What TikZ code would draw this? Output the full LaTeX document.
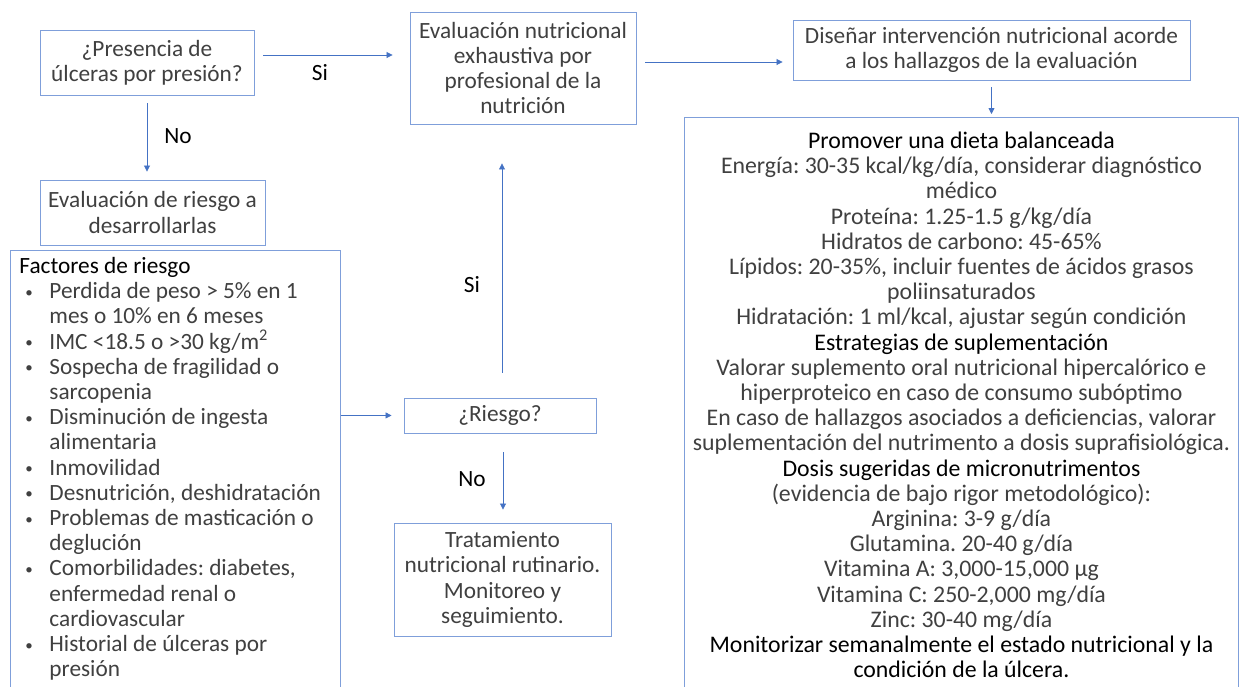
\documentclass[tikz,border=0pt]{standalone}
\usepackage{fontspec}
\setmainfont{Carlito}
\usepackage{xcolor}
\usepackage{tikz}
\usetikzlibrary{arrows.meta, calc}

\definecolor{linkblue}{HTML}{4472C4}
\definecolor{boxblue}{HTML}{7F9FDA}
\definecolor{bodygray}{HTML}{404040}

\tikzset{
	box/.style = {draw = boxblue, line width = 0.9pt, align = center, inner sep = 2pt, text = bodygray,
		font = \fontsize{23.3}{25.2}\selectfont},
	link/.style = {draw = linkblue, line width = 0.8pt, -{Triangle[length = 6pt, width = 6pt]}},
	answer/.style = {text = black, font = \fontsize{23.3}{25.2}\selectfont}
}

\newcommand{\riskdot}{\hspace{1pt}{\fontsize{15}{15}\selectfont\raisebox{1.5pt}{\textbullet}}}
\newenvironment{risklist}{\begin{list}{\riskdot}{\leftmargin = 30pt \labelwidth = 25pt \labelsep = 0pt
	\itemsep = 0pt \topsep = 0pt \parsep = 0pt \partopsep = 0pt
	\renewcommand{\makelabel}[1]{\makebox[\labelwidth][l]{##1}}}}{\end{list}}
\newcommand{\headline}[1]{{\color{black}#1}}

\begin{document}
\frenchspacing
\begin{tikzpicture}[x = 1pt, y = -1pt]
			\fill [white] (0,0) rectangle (1239,686);
			\clip (0,0) rectangle (1239,686);

			\begin{scope}
				\node [box, minimum width = 214pt, minimum height = 65pt] (Presence) at (147,62.5)
					{¿Presencia de\\úlceras por presión?};
				\node [box, minimum width = 226pt, minimum height = 112pt] (Assessment) at (523,68)
					{Evaluación nutricional\\exhaustiva por\\profesional de la\\nutrición};
				\node [box, minimum width = 397pt, minimum height = 60pt] (Design) at (991.5,50)
					{Diseñar intervención nutricional acorde\\a los hallazgos de la evaluación};
				\node [box, minimum width = 225pt, minimum height = 65pt] (RiskEval) at (152.5,212.5)
					{Evaluación de riesgo a\\desarrollarlas};
				\node [box, minimum width = 192pt, minimum height = 35pt] (Risk) at (500,415.5)
					{¿Riesgo?};
				\node [box, minimum width = 217pt, minimum height = 113pt] (Routine) at (502.5,579.5)
					{Tratamiento\\nutricional rutinario.\\Monitoreo y\\seguimiento.};
			\end{scope}

			\begin{scope}
				\node [box, align = none, anchor = north west, text width = 312pt, inner xsep = 9pt,
					minimum height = 437pt] (Factors) at (10,250)
					{\raggedright
					\headline{Factores de riesgo}
					\begin{risklist}
						\item Perdida de peso > 5\% en 1\\mes o 10\% en 6 meses
						\item IMC <18.5 o >30 kg/m\textsuperscript{2}
						\item Sospecha de fragilidad o\\sarcopenia
						\item Disminución de ingesta\\alimentaria
						\item Inmovilidad
						\item Desnutrición, deshidratación
						\item Problemas de masticación o\\deglución
						\item Comorbilidades: diabetes,\\enfermedad renal o\\cardiovascular
						\item Historial de úlceras por\\presión
					\end{risklist}};

				\node [box, anchor = north west, minimum width = 554pt, minimum height = 575pt,
					font = \fontsize{23.8}{25.2}\selectfont] (Plan) at (684,117)
					{\headline{Promover una dieta balanceada}\\
					Energía: 30-35 kcal/kg/día, considerar diagnóstico\\médico\\
					Proteína: 1.25-1.5 g/kg/día\\
					Hidratos de carbono: 45-65\%\\
					Lípidos: 20-35\%, incluir fuentes de ácidos grasos\\poliinsaturados\\
					Hidratación: 1 ml/kcal, ajustar según condición\\
					\headline{Estrategias de suplementación}\\
					Valorar suplemento oral nutricional hipercalórico e\\hiperproteico en caso de consumo subóptimo\\
					En caso de hallazgos asociados a deficiencias, valorar\\suplementación del nutrimento a dosis suprafisiológica.\\
					\headline{Dosis sugeridas de micronutrimentos}\\
					(evidencia de bajo rigor metodológico):\\
					Arginina: 3-9 g/día\\
					Glutamina. 20-40 g/día\\
					Vitamina A: 3,000-15,000 µg\\
					Vitamina C: 250-2,000 mg/día\\
					Zinc: 30-40 mg/día\\
					\headline{Monitorizar semanalmente el estado nutricional y la}\\
					\headline{condición de la úlcera.}};
			\end{scope}

			\begin{scope}
				\draw [link, shorten <= 9pt, shorten >= 17pt] ([yshift = 7.5pt]Presence.east) -- ([yshift = 7.5pt]Presence.east -| Assessment.west);
				\draw [link, shorten <= 9pt, shorten >= 10pt] ([yshift = 6pt]Assessment.east) -- ([yshift = 6pt]Assessment.east -| Design.west);
				\draw [link, shorten <= 7pt, shorten >= 3pt] (Design.south) -- (Design.south |- Plan.north);
				\draw [link, shorten <= 8pt, shorten >= 8pt] (Presence.south) -- (Presence.south |- RiskEval.north);
				\draw [link, shorten >= 12pt] ([yshift = 53.5pt]Factors.east) -- ([yshift = 53.5pt]Factors.east -| Risk.west);
				\draw [link, shorten <= 19pt, shorten >= 13pt] ([xshift = 3pt]Risk.south) -- ([xshift = 3pt]Risk.south |- Routine.north);
				\draw [link, shorten <= 25pt, shorten >= 39pt] ([xshift = 2pt]Risk.north) -- ([xshift = 2pt]Risk.north |- Assessment.south);
			\end{scope}

			\begin{scope}
				\node [answer] (YesPresence) at (320,73) {Si};
				\node [answer] (NoPresence) at (178,136) {No};
				\node [answer] (YesRisk) at (472,285) {Si};
				\node [answer] (NoRisk) at (472,479) {No};
			\end{scope}
		\end{tikzpicture}
\end{document}
